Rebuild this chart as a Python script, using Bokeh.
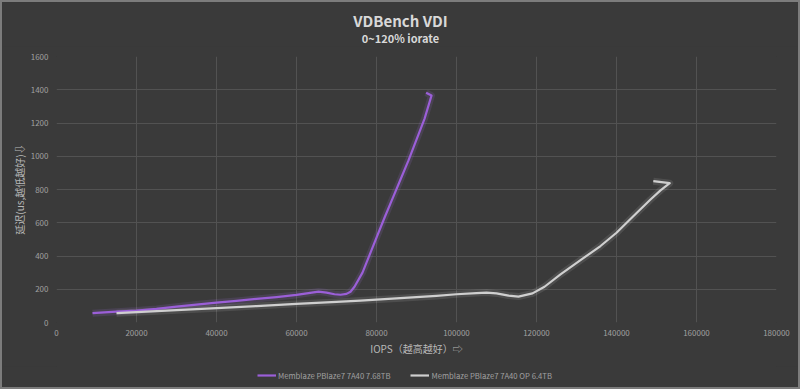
from bokeh.plotting import figure
from bokeh.models import Legend, LegendItem, Label, SingleIntervalTicker, Range1d, BasicTickFormatter
from bokeh.layouts import column
from bokeh.embed import file_html
from bokeh.resources import INLINE

# ---- data ----
purple_x = [9000, 15000, 20000, 25000, 30000, 35000, 40000, 45000, 50000, 55000, 60000,
            63000, 65500, 67500, 69500, 71000, 72500, 73500, 74500, 76500, 78000, 80000,
            82000, 84000, 86000, 88000, 90000, 92000, 93750, 92400]
purple_y = [56, 65, 72, 82, 95, 108, 120, 130, 142, 153, 166,
            177, 186, 180, 170, 167, 172, 185, 215, 300, 390, 510,
            630, 745, 860, 975, 1100, 1225, 1365, 1382]

gray_x = [15000, 20000, 30000, 40000, 50000, 60000, 70000, 76000, 85000, 95000, 100000,
          105000, 107500, 110000, 113000, 115500, 119000, 122000, 126000, 131000, 136000,
          140000, 144000, 148500, 151000, 153300, 149200]
gray_y = [56, 62, 74, 86, 99, 112, 124, 132, 145, 160, 170,
          177, 180, 175, 162, 156, 175, 215, 290, 375, 460,
          540, 635, 740, 795, 838, 850]

series_names = ["Memblaze PBlaze7 7A40 7.68TB", "Memblaze PBlaze7 7A40 OP 6.4TB"]
title_text = "VDBench VDI"
subtitle_text = "0~120% iorate"
x_ticks_step = 20000
y_ticks_step = 200

BG = "#3a3a3a"
FONT = "Noto Sans CJK SC"
PURPLE = "#9b5fd8"
GRAY = "#cfcfcf"
W = 796
ML, MR = 54, 22


def strip(height):
    f = figure(width=W, height=height, output_backend="svg", toolbar_location=None,
               x_range=Range1d(0, 1), y_range=Range1d(0, 1),
               background_fill_color=BG, border_fill_color=BG,
               x_axis_location=None, y_axis_location=None,
               min_border_left=ML, min_border_right=MR, min_border_top=0, min_border_bottom=0)
    f.outline_line_color = None
    f.grid.visible = False
    return f


# ---- title strip ----
ts = strip(44)
ts.add_layout(Label(x=344, y=26, x_units="screen", y_units="screen", text=title_text,
                    text_align="center", text_baseline="middle", text_color="#d8d8d8",
                    text_font=FONT, text_font_size="15px", text_font_style="bold"))
ts.add_layout(Label(x=344, y=9, x_units="screen", y_units="screen", text=subtitle_text,
                    text_align="center", text_baseline="middle", text_color="#d8d8d8",
                    text_font=FONT, text_font_size="11px", text_font_style="bold"))

# ---- main plot ----
p = figure(width=W, height=320, output_backend="svg", toolbar_location=None,
           x_range=Range1d(0, 180000), y_range=Range1d(0, 1600),
           background_fill_color=BG, border_fill_color=BG,
           min_border_left=ML, min_border_right=MR, min_border_top=10, min_border_bottom=44)
p.outline_line_color = None

for ax in (p.xaxis[0], p.yaxis[0]):
    ax.axis_line_color = None
    ax.major_tick_line_color = None
    ax.minor_tick_line_color = None
    ax.major_tick_out = 0
    ax.major_tick_in = 0
    ax.minor_tick_out = 0
    ax.major_label_text_color = "#a0a0a0"
    ax.major_label_text_font = FONT
    ax.major_label_text_font_size = "8px"
    ax.axis_label_text_color = "#b8b8b8"
    ax.axis_label_text_font = FONT
    ax.axis_label_text_font_size = "10px"
    ax.axis_label_text_font_style = "normal"
    ax.formatter = BasicTickFormatter(use_scientific=False)

p.xaxis.ticker = SingleIntervalTicker(interval=x_ticks_step)
p.yaxis.ticker = SingleIntervalTicker(interval=y_ticks_step)
p.xaxis.axis_label = "IOPS（越高越好）⇨"
p.yaxis.axis_label = "延迟(us,越低越好)⇩"
p.xaxis.major_label_standoff = 7
p.yaxis.major_label_standoff = 8
p.xaxis.axis_label_standoff = 2
p.yaxis.axis_label_standoff = 1

p.xgrid.grid_line_color = "#525252"
p.ygrid.grid_line_color = "#525252"
p.xgrid.ticker = p.xaxis.ticker
p.ygrid.ticker = p.yaxis.ticker

# glow + lines
p.line(purple_x, purple_y, line_color="#a070e0", line_width=7, line_alpha=0.15, line_join="round")
p.line(gray_x, gray_y, line_color="#e0e0e0", line_width=7, line_alpha=0.12, line_join="round")
p.line(purple_x, purple_y, line_color=PURPLE, line_width=2.2, line_join="round")
p.line(gray_x, gray_y, line_color=GRAY, line_width=2.2, line_join="round")

# ---- legend strip ----
lg = strip(21)
l1 = lg.line([-10, -9], [-10, -9], line_color=PURPLE, line_width=2.2)
l2 = lg.line([-10, -9], [-10, -9], line_color=GRAY, line_width=2.2)
legend = Legend(items=[LegendItem(label=series_names[0], renderers=[l1]),
                       LegendItem(label=series_names[1], renderers=[l2])],
                orientation="horizontal", location=(201, 6),
                background_fill_alpha=0, border_line_color=None,
                label_text_color="#a0a0a0", label_text_font=FONT, label_text_font_size="7.7px",
                glyph_width=19, glyph_height=12, label_standoff=2, spacing=20, padding=0, margin=0,
                label_height=12)
lg.add_layout(legend, "center")

layout = column(ts, p, lg, spacing=0)

html = file_html(layout, INLINE)
html = html.replace("</head>",
                    "<style>html{background:#3a3a3a;margin:0;padding:0;}"
                    "body{margin:0;padding:0;width:800px;height:389px;box-sizing:border-box;"
                    "border:2px solid #7c7c7c;background:#3a3a3a;}</style></head>", 1)
open("out.html", "w").write(html)
